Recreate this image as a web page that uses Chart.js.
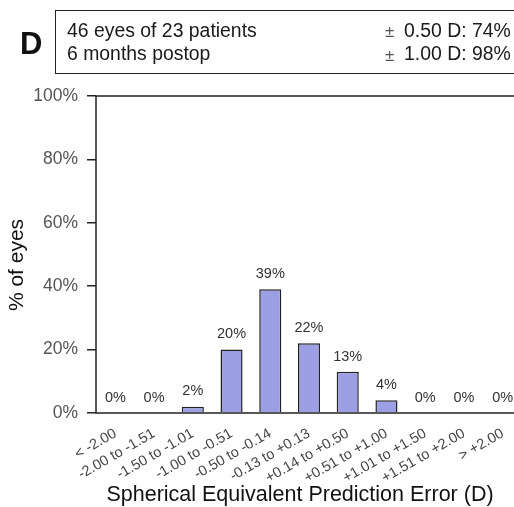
<!DOCTYPE html>
<html>
<head>
<meta charset="utf-8">
<script src="https://cdn.jsdelivr.net/npm/chart.js@4.4.0/dist/chart.umd.min.js"></script>
<style>
  body { margin: 0; overflow: hidden; background: #fff; font-family: "Liberation Sans", Arial, sans-serif; }
  #wrap { position: absolute; left: 0; top: 0; width: 530px; height: 507px; }
  #letter { position: absolute; left: 20px; top: 26px; font-size: 31px; font-weight: bold; color: #111; }
  #box { position: absolute; left: 55px; top: 10px; width: 520px; height: 62px; border: 1.5px solid #222; }
  .txt { position: absolute; font-size: 19.4px; color: #1a1a1a; line-height: 23px; white-space: nowrap; }
  .pm { font-size: 17px; color: #555; }
</style>
</head>
<body>
<div id="wrap">
  <canvas id="chart" width="530" height="507"></canvas>
</div>
<div id="letter">D</div>
<div id="box">
  <div class="txt" style="left:11px; top:8px;">46 eyes of 23 patients<br>6 months postop</div>
  <div class="txt" style="left:329px; top:8px;"><span class="pm">±</span><br><span class="pm">±</span></div>
  <div class="txt" style="left:348px; top:8px;">0.50 D: 74%<br>1.00 D: 98%</div>
</div>
<script>
const categories = ['< -2.00', '-2.00 to -1.51', '-1.50 to -1.01', '-1.00 to -0.51', '-0.50 to -0.14',
  '-0.13 to +0.13', '+0.14 to +0.50', '+0.51 to +1.00', '+1.01 to +1.50', '+1.51 to +2.00', '> +2.00'];
const percentEyes = [0, 0, 2, 20, 39, 22, 13, 4, 0, 0, 0];
const yTicks = [0, 20, 40, 60, 80, 100];
const xTitle = 'Spherical Equivalent Prediction Error (D)';
const yTitle = '% of eyes';

const labelPlugin = {
  id: 'barLabels',
  afterDatasetsDraw(chart) {
    const ctx = chart.ctx;
    const meta = chart.getDatasetMeta(0);
    ctx.save();
    ctx.font = '14.5px "Liberation Sans", Arial, sans-serif';
    ctx.fillStyle = '#333';
    ctx.textAlign = 'center';
    ctx.textBaseline = 'bottom';
    meta.data.forEach((bar, i) => {
      ctx.fillText(percentEyes[i] + '%', bar.x, bar.y - 8);
    });
    ctx.restore();
  }
};

// plot frame and axis titles
const boxPlugin = {
  id: 'plotBox',
  afterDraw(chart) {
    const a = chart.chartArea;
    const ctx = chart.ctx;
    ctx.save();
    ctx.strokeStyle = '#222';
    ctx.lineWidth = 1.5;
    ctx.strokeRect(a.left, a.top, a.right - a.left, a.bottom - a.top);
    ctx.fillStyle = '#111';
    ctx.font = '21.5px "Liberation Sans", Arial, sans-serif';
    ctx.textAlign = 'center';
    ctx.textBaseline = 'middle';
    ctx.fillText(xTitle, 300, 495);
    ctx.translate(17, 265);
    ctx.rotate(-Math.PI / 2);
    ctx.font = '21px "Liberation Sans", Arial, sans-serif';
    ctx.fillText(yTitle, 0, 0);
    ctx.restore();
  }
};

new Chart(document.getElementById('chart').getContext('2d'), {
  type: 'bar',
  data: {
    labels: categories,
    datasets: [{
      data: percentEyes,
      backgroundColor: '#9c9fe4',
      borderColor: '#222',
      borderWidth: 1.5,
      barPercentage: 0.57,
      categoryPercentage: 1
    }]
  },
  options: {
    responsive: false,
    animation: false,
    layout: { padding: { top: 96, left: 0, right: 8, bottom: 0 } },
    plugins: { legend: { display: false }, tooltip: { enabled: false } },
    scales: {
      x: {
        grid: { display: false, drawTicks: false },
        border: { display: false },
        ticks: {
          color: '#444',
          font: { size: 14.5, family: '"Liberation Sans", Arial, sans-serif' },
          maxRotation: 30, minRotation: 30,
          padding: 12,
          autoSkip: false
        },
        afterFit(scale) { scale.height = 94; }
      },
      y: {
        min: 0, max: 100,
        afterBuildTicks(scale) { scale.ticks = yTicks.map(v => ({ value: v })); },
        grid: { display: true, drawOnChartArea: false, drawTicks: true, tickLength: 9, color: '#222', lineWidth: 1.5 },
        border: { display: false },
        ticks: {
          color: '#555',
          font: { size: 17.5, family: '"Liberation Sans", Arial, sans-serif' },
          padding: 9,
          callback: v => v + '%'
        },
        afterFit(scale) { scale.width = 96; }
      }
    }
  },
  plugins: [labelPlugin, boxPlugin]
});
</script>
</body>
</html>
